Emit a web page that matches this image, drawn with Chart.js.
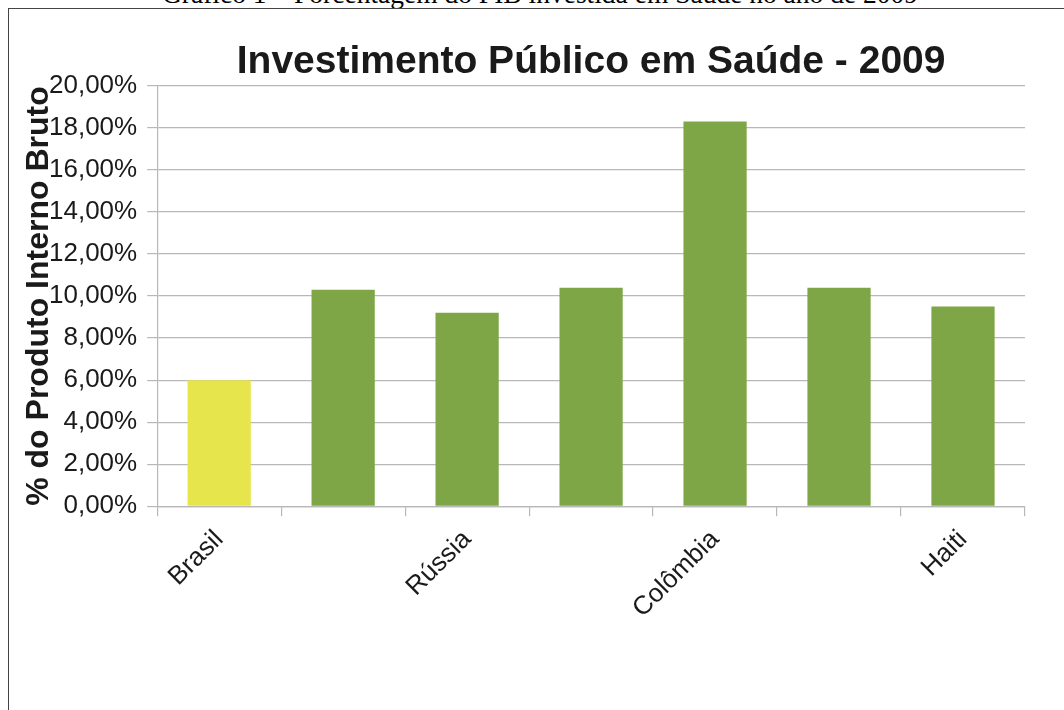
<!DOCTYPE html>
<html lang="pt">
<head>
<meta charset="utf-8">
<title>Investimento Público em Saúde - 2009</title>
<script src="https://cdn.jsdelivr.net/npm/chart.js@4.4.1/dist/chart.umd.min.js"></script>
<style>
    html, body {
        margin: 0;
        padding: 0;
        background: #fff;
        overflow: hidden;
    }
    .page {
        position: relative;
        width: 1064px;
        height: 710px;
    }
    .caption {
        position: absolute;
        left: 0;
        top: -20px;
        width: 1080px;
        text-align: center;
        font: 27.5px 'Liberation Serif', 'Times New Roman', serif;
        line-height: 27px;
        color: #000;
        white-space: nowrap;
    }
    .frame {
        position: absolute;
        left: 8px;
        top: 8px;
        width: 1060px;
        height: 720px;
        border: 1.5px solid #444;
        box-sizing: border-box;
    }
    .chart-box {
        position: absolute;
        left: 0;
        top: 0;
        width: 1064px;
        height: 710px;
    }
</style>
</head>
<body>
<div class="page">
    <div class="caption">Gráfico 1 – Porcentagem do PIB investida em Saúde no ano de 2009</div>
    <div class="frame"></div>
    <div class="chart-box"><canvas id="saudeChart"></canvas></div>
</div>

<script>
'use strict';

// dados (% do PIB)
const paises = ['Brasil', 'China', 'Rússia', 'Índia', 'Colômbia', 'Argentina', 'Haiti'];
const investimento = [6.0, 10.3, 9.2, 10.4, 18.3, 10.4, 9.5];
const coresBarras = ['#e6e54c', '#7ea646', '#7ea646', '#7ea646', '#7ea646', '#7ea646', '#7ea646'];
const tituloGrafico = 'Investimento Público em Saúde - 2009';
const tituloEixoY = '% do Produto Interno Bruto';

document.addEventListener('DOMContentLoaded', () => {
    const textColor = '#1a1a1a',
        gridColor = '#b8b8b8',
        fontFamily = "'Liberation Sans', Arial, sans-serif";

    function formatPercent(v) {
        return Number(v).toFixed(2).replace('.', ',') + '%';
    }

    const data = {
        labels: paises,
        datasets: [{
            label: tituloGrafico,
            data: investimento,
            backgroundColor: coresBarras,
            borderWidth: 0,
            categoryPercentage: 1,
            barPercentage: 0.51
        }]
    };

    const config = {
        type: 'bar',
        data: data,
        options: {
            responsive: true,
            maintainAspectRatio: false,
            animation: false,
            layout: {
                padding: { top: 39, left: 23, right: 39, bottom: 78 }
            },
            plugins: {
                legend: {
                    display: false
                },
                tooltip: {
                    enabled: false
                },
                title: {
                    display: true,
                    fullSize: false,
                    text: tituloGrafico,
                    color: textColor,
                    font: { family: fontFamily, size: 39, weight: 'bold', lineHeight: 1.2 },
                    padding: { top: 0, bottom: 0 }
                }
            },
            scales: {
                y: {
                    min: 0,
                    max: 20,
                    ticks: {
                        stepSize: 2,
                        color: textColor,
                        padding: 10,
                        font: { family: fontFamily, size: 26 },
                        callback: v => formatPercent(v)
                    },
                    grid: {
                        color: gridColor,
                        lineWidth: 1.2,
                        tickLength: 10
                    },
                    border: {
                        color: gridColor,
                        width: 1.2
                    },
                    title: {
                        display: true,
                        text: tituloEixoY,
                        color: textColor,
                        padding: { top: 0, bottom: -16 },
                        font: { family: fontFamily, size: 32, weight: 'bold', lineHeight: 1 }
                    }
                },
                x: {
                    ticks: {
                        color: textColor,
                        autoSkip: false,
                        maxRotation: 45,
                        minRotation: 45,
                        padding: 8,
                        font: { family: fontFamily, size: 26 },
                        callback: function (value, i) {
                            return i % 2 === 0 ? this.getLabelForValue(value) : '';
                        }
                    },
                    grid: {
                        display: true,
                        offset: true,
                        drawOnChartArea: false,
                        color: gridColor,
                        lineWidth: 1.2,
                        tickLength: 10
                    },
                    border: {
                        color: gridColor,
                        width: 1.2
                    }
                }
            }
        }
    };

    new Chart(document.getElementById('saudeChart'), config);
});
</script>
</body>
</html>
